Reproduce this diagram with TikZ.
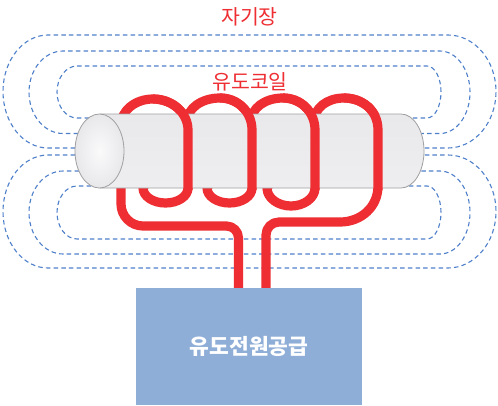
\documentclass[tikz,border=0pt]{standalone}
\usepackage{fontspec}
\setmainfont{Noto Sans CJK KR}
\definecolor{fieldblue}{RGB}{78,128,202}
\definecolor{coilred}{RGB}{238,46,50}
\definecolor{supplyblue}{RGB}{142,173,215}
\definecolor{rodedge}{RGB}{160,160,162}
\definecolor{rodlight}{RGB}{233,233,235}
\definecolor{roddark}{RGB}{204,204,207}
\definecolor{rodbottom}{RGB}{238,238,240}
\definecolor{facein}{RGB}{250,250,251}
\definecolor{faceout}{RGB}{232,232,235}
\begin{document}
\begin{tikzpicture}[x=1pt,y=-1pt,
  fieldline/.style={draw=fieldblue, line width=1.1pt, dash pattern=on 4.5pt off 3.2pt},
  wire/.style={draw=coilred, line width=9.2pt, line join=round},
  labeltext/.style={text=coilred, inner sep=0pt, font=\fontsize{20.5pt}{24pt}\selectfont},
  supplybox/.style={fill=supplyblue, minimum width=226pt, minimum height=117pt,
    inner sep=0pt, text=white, font=\fontsize{21.5pt}{25pt}\selectfont\bfseries}]
\useasboundingbox (0,0) rectangle (498,405);
\fill[white] (0,0) rectangle (498,405);

% magnetic field loops, upper half
\draw[fieldline] (75,148) -- (48,148) .. controls (23.15,148) and (3,122.7) .. (3,91.5)
  .. controls (3,60.3) and (23.15,35) .. (48,35) -- (448,35)
  .. controls (474.5,35) and (496,60.3) .. (496,91.5)
  .. controls (496,122.7) and (474.5,148) .. (448,148) -- (424,148);
\draw[fieldline] (78,133.5) -- (63,133.5) .. controls (44.2,133.5) and (29,115.05) .. (29,92.25)
  .. controls (29,69.45) and (44.2,51) .. (63,51) -- (440,51)
  .. controls (456.6,51) and (470,69.45) .. (470,92.25)
  .. controls (470,115.05) and (456.6,133.5) .. (440,133.5) -- (421,133.5);
\draw[fieldline] (89,118) -- (77,118) .. controls (65.95,118) and (57,106.4) .. (57,92)
  .. controls (57,77.6) and (65.95,66) .. (77,66) -- (427,66)
  .. controls (434.7,66) and (441,77.6) .. (441,92)
  .. controls (441,106.4) and (434.7,118) .. (427,118) -- (412,118);

% magnetic field loops, lower half
\draw[fieldline] (75,155) -- (48,155) .. controls (23.15,155) and (3,180.3) .. (3,211.5)
  .. controls (3,242.7) and (23.15,268) .. (48,268) -- (448,268)
  .. controls (474.5,268) and (496,242.7) .. (496,211.5)
  .. controls (496,180.3) and (474.5,155) .. (448,155) -- (424,155);
\draw[fieldline] (79,171) -- (63,171) .. controls (44.2,171) and (29,189.6) .. (29,212.5)
  .. controls (29,235.4) and (44.2,254) .. (63,254) -- (440,254)
  .. controls (456.6,254) and (470,235.4) .. (470,212.5)
  .. controls (470,189.6) and (456.6,171) .. (440,171) -- (420,171);
\draw[fieldline] (91,186) -- (77,186) .. controls (65.95,186) and (57,197.9) .. (57,212.5)
  .. controls (57,227.1) and (65.95,239) .. (77,239) -- (427,239)
  .. controls (434.7,239) and (441,227.1) .. (441,212.5)
  .. controls (441,197.9) and (434.7,186) .. (427,186) -- (409,186);

% induction power supply
\node[supplybox] (supply) at (249,346.5) {유도전원공급};

% the coil: leads, turns and the strands that pass behind the rod
\draw[wire] ([xshift=-10.5pt]supply.north) -- (238.5,238)
  .. controls (238.5,231.4) and (233.1,226) .. (226.5,226) -- (143,226)
  .. controls (130.9,226) and (121,216.1) .. (121,204) -- (121,125)
  .. controls (121,110.6) and (135.3,99) .. (153,99)
  .. controls (172.3,99) and (188,112.9) .. (188,130) -- (188,188)
  .. controls (188,196.3) and (178,203) .. (165.5,203)
  .. controls (153,203) and (143,196.3) .. (143,188)
  -- (187,122)
  .. controls (187,108) and (202,98) .. (220,98)
  .. controls (238,98) and (252,112) .. (252,130) -- (252,188)
  .. controls (252,196.3) and (242,203) .. (229.5,203)
  .. controls (217,203) and (207,196.3) .. (207,188)
  -- (251,122)
  .. controls (251,108) and (265,98) .. (283,98)
  .. controls (301,98) and (315,112) .. (315,130) -- (315,188)
  .. controls (315,198) and (304,206) .. (291,206)
  .. controls (278,206) and (267,198) .. (267,188)
  -- (314,122)
  .. controls (314,108) and (327,98) .. (344,98)
  .. controls (362,98) and (378,110) .. (378,130) -- (378,186)
  .. controls (378,207) and (361,222) .. (340,222) -- (279,222)
  .. controls (271.8,222) and (266,227.8) .. (266,235) -- ([xshift=17pt]supply.north);

% the rod
\shade[top color=rodlight, middle color=roddark, bottom color=rodbottom]
  (99.5,114) -- (401,114) .. controls (413.7,114) and (424,130.6) .. (424,151)
  .. controls (424,171.4) and (413.7,188) .. (401,188) -- (99.5,188) -- cycle;
\draw[rodedge, line width=0.8pt] (99.5,114) -- (401,114)
  .. controls (413.7,114) and (424,130.6) .. (424,151)
  .. controls (424,171.4) and (413.7,188) .. (401,188) -- (99.5,188);
\shadedraw[inner color=facein, outer color=faceout, draw=rodedge, line width=0.8pt]
  (99.5,151) ellipse [x radius=24.5pt, y radius=37pt];

% front strands of the coil, in front of the rod
\draw[wire] (153,99) .. controls (172.3,99) and (188,112.9) .. (188,130) -- (188,190);
\draw[wire] (220,98) .. controls (238,98) and (252,112) .. (252,130) -- (252,190);
\draw[wire] (283,98) .. controls (301,98) and (315,112) .. (315,130) -- (315,190);
\draw[wire] (344,98) .. controls (362,98) and (378,110) .. (378,130) -- (378,190);

% labels
\node[labeltext] (fieldlabel) at (249.5,17) {자기장};
\node[labeltext] (coillabel) at (250,81.5) {유도코일};
\end{tikzpicture}
\end{document}
